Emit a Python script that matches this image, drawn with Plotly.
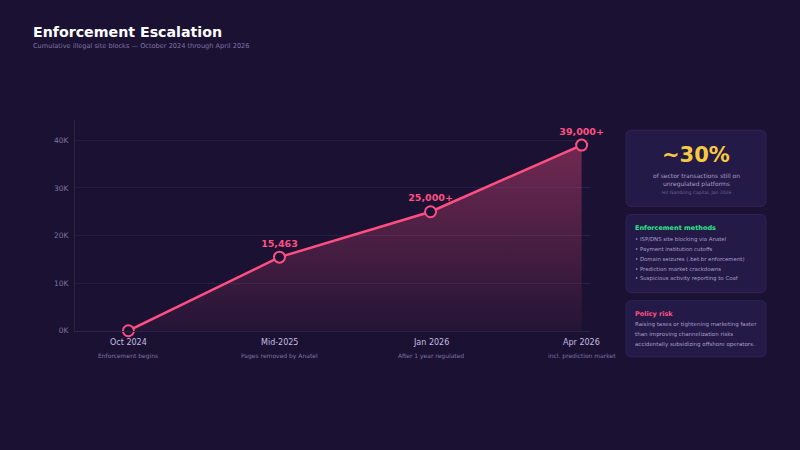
import plotly.graph_objects as go

# ---- data ----
categories = ["Oct 2024", "Mid-2025", "Jan 2026", "Apr 2026"]
sublabels = ["Enforcement begins", "Pages removed by Anatel", "After 1 year regulated", "incl. prediction market"]
blocks = [0, 15463, 25000, 39000]
point_labels = ["", "15,463", "25,000+", "39,000+"]
ytick_vals = [0, 10000, 20000, 30000, 40000]
ytick_text = ["0K", "10K", "20K", "30K", "40K"]
methods = [
    "ISP/DNS site blocking via Anatel",
    "Payment institution cutoffs",
    "Domain seizures (.bet.br enforcement)",
    "Prediction market crackdowns",
    "Suspicious activity reporting to Coaf",
]
policy_lines = [
    "Raising taxes or tightening marketing faster",
    "than improving channelization risks",
    "accidentally subsidizing offshore operators.",
]

W, H = 800, 450
HE = 444.0  # effective rendered height used for placement
BG = "#1b1233"
PINK = "#ff4f82"
CARD_FILL = "#241a47"
CARD_LINE = "#2f2558"
FONT = "DejaVu Sans"

def px(x):
    return x / W

def py(y):
    return 1 - y / HE

xs = list(range(len(categories)))

fig = go.Figure()
fig.add_trace(go.Scatter(
    x=xs, y=blocks, mode="lines+markers+text",
    line=dict(color=PINK, width=2.5),
    marker=dict(size=11, color=BG, line=dict(color=PINK, width=2)),
    fill="tozeroy",
    fillgradient=dict(type="vertical",
                      colorscale=[[0, "rgba(255,79,130,0.04)"], [1, "rgba(255,79,130,0.38)"]]),
    text=point_labels, textposition="top center",
    textfont=dict(color=PINK, size=9.5, family=FONT, weight="bold"),
    cliponaxis=False,
    hoverinfo="skip", showlegend=False,
))

def rounded_rect(x0, y0, x1, y1, r=6):
    X0, X1 = px(x0), px(x1)
    Y0, Y1 = py(y0), py(y1)
    rx, ry = r / W, r / HE
    return (f"M {X0+rx},{Y0} L {X1-rx},{Y0} Q {X1},{Y0} {X1},{Y0-ry} "
            f"L {X1},{Y1+ry} Q {X1},{Y1} {X1-rx},{Y1} "
            f"L {X0+rx},{Y1} Q {X0},{Y1} {X0},{Y1+ry} "
            f"L {X0},{Y0-ry} Q {X0},{Y0} {X0+rx},{Y0} Z")

shapes = []
for (y0, y1) in [(130, 206), (214, 292), (300, 356)]:
    shapes.append(dict(type="path", xref="paper", yref="paper",
                       path=rounded_rect(626, y0, 766, y1),
                       fillcolor=CARD_FILL, line=dict(color=CARD_LINE, width=1), layer="below"))

ann = []
def text(x, y, s, size, color, bold=False, anchor="left"):
    xx = x - 2 if anchor == "left" else x
    ann.append(dict(x=px(xx), y=py(y), xref="paper", yref="paper", text=s, showarrow=False,
                    xanchor=anchor, yanchor="middle",
                    font=dict(family=FONT, size=size, color=color, weight="bold" if bold else "normal")))

text(33, 32, "Enforcement Escalation", 14.2, "#ffffff", bold=True)
text(33, 46, "Cumulative illegal site blocks — October 2024 through April 2026", 6.6, "#7f72a3")

# x labels
for i, (c, s) in enumerate(zip(categories, sublabels)):
    ann.append(dict(x=i, y=py(342), xref="x", yref="paper", text=c, showarrow=False,
                    xanchor="center", yanchor="middle",
                    font=dict(family=FONT, size=8, color="#c6bde0")))
    ann.append(dict(x=i, y=py(355), xref="x", yref="paper", text=s, showarrow=False,
                    xanchor="center", yanchor="middle",
                    font=dict(family=FONT, size=6, color="#7f72a3")))

# card 1
text(696, 155, "~30%", 21, "#f7c940", bold=True, anchor="center")
text(696, 175, "of sector transactions still on", 6, "#a99ec8", anchor="center")
text(696, 184, "unregulated platforms", 6, "#a99ec8", anchor="center")
text(696, 192, "H2 Gambling Capital, Jan 2026", 4.5, "#6f6394", anchor="center")

# card 2
text(635, 227, "Enforcement methods", 6.5, "#2fe58a", bold=True)
for k, m in enumerate(methods):
    text(635, 239 + k * 9.8, "• " + m, 5.4, "#a99ec8")

# card 3
text(635, 313, "Policy risk", 6.5, PINK, bold=True)
for k, l in enumerate(policy_lines):
    text(635, 324 + k * 10, l, 5.5, "#a99ec8")

fig.update_layout(
    width=W, height=H,
    margin=dict(l=0, r=0, t=0, b=0),
    paper_bgcolor=BG, plot_bgcolor=BG,
    xaxis=dict(domain=[px(75), px(590)], range=[-0.3535, 3.0555], showgrid=False,
               showticklabels=False, zeroline=False, showline=True,
               linecolor="#2a2147", linewidth=1, fixedrange=True),
    yaxis=dict(domain=[py(330), py(120)], range=[0, 40000 * 210 / 190],
               tickvals=ytick_vals, ticktext=ytick_text,
               tickfont=dict(family=FONT, size=7.5, color="#7f72a3"),
               ticklabelstandoff=4,
               gridcolor="#271e44", gridwidth=1, zeroline=False,
               showline=True, linecolor="#2a2147", linewidth=1, ticks="", fixedrange=True),
    shapes=shapes, annotations=ann,
    font=dict(family=FONT),
)

fig.write_html("out.html")
